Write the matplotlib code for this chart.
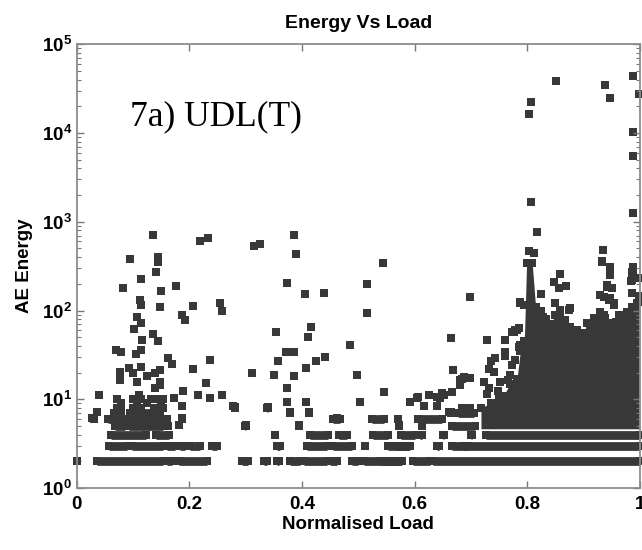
import numpy as np
import matplotlib.pyplot as plt
from matplotlib.ticker import LogLocator, NullFormatter

plt.rcParams['font.family'] = ['Liberation Sans', 'DejaVu Sans']
plt.rcParams['font.weight'] = 'bold'
plt.rcParams['mathtext.fontset'] = 'custom'
plt.rcParams['mathtext.rm'] = 'Liberation Sans:bold'
plt.rcParams['mathtext.bf'] = 'Liberation Sans:bold'
plt.rcParams['mathtext.it'] = 'Liberation Sans:bold'

# ---------------- data ----------------
# single AE hits (normalised load, energy)
pts_x = [
    0.136, 0.219, 0.233, 0.095, 0.145, 0.145, 0.141, 0.115, 0.082, 0.149, 0.176, 0.113, 0.115,
    0.148, 0.207, 0.254, 0.258, 0.187, 0.193, 0.107, 0.114, 0.102, 0.136, 0.116, 0.144, 0.069,
    0.079, 0.115, 0.105, 0.163, 0.170, 0.237, 0.207, 0.077, 0.092, 0.100, 0.114, 0.124, 0.139,
    0.148, 0.077, 0.107, 0.148, 0.139, 0.148, 0.230, 0.188, 0.040, 0.111, 0.173, 0.216, 0.237,
    0.258, 0.278, 0.036, 0.028, 0.187, 0.187, 0.181, 0.071, 0.078, 0.100, 0.107, 0.115, 0.124,
    0.132, 0.141, 0.150, 0.154,
    0.386, 0.315, 0.325, 0.390, 0.544, 0.373, 0.516, 0.406, 0.440, 0.516, 0.416, 0.411, 0.354,
    0.486, 0.371, 0.386, 0.358, 0.425, 0.441, 0.312, 0.351, 0.386, 0.408, 0.498, 0.373, 0.546,
    0.373, 0.408, 0.504, 0.281, 0.339, 0.379, 0.413, 0.463, 0.300, 0.395,
    0.699, 0.788, 0.794, 0.664, 0.729, 0.761, 0.777, 0.785, 0.761, 0.786, 0.669, 0.735, 0.743,
    0.733, 0.742, 0.773, 0.684, 0.699, 0.680, 0.724, 0.733, 0.751, 0.766, 0.592, 0.604, 0.625,
    0.640, 0.646, 0.652, 0.667, 0.664, 0.616, 0.573, 0.613, 0.607, 0.649, 0.640, 0.661, 0.681,
    0.687, 0.761, 0.728, 0.748, 0.770, 0.778,
    0.806, 0.804, 0.852, 0.939, 0.948, 0.988, 0.998, 0.988, 0.988, 0.806, 0.988, 0.818, 0.804,
    0.812, 0.934, 0.933, 0.948, 0.948, 0.942, 0.936, 0.948, 0.988, 0.988, 0.985, 0.998, 0.987,
    0.998, 0.858, 0.847, 0.856, 0.869, 0.824, 0.787, 0.850, 0.874, 0.877, 0.815, 0.829, 0.859,
    0.930, 0.945, 0.954, 0.936, 0.963, 0.995, 0.980, 0.975, 0.779, 0.788, 0.889, 0.906, 0.918,
    0.924, 0.942, 0.951, 0.954, 0.966, 0.978, 0.987, 0.987, 0.900, 0.812, 0.818, 0.773, 0.782,
    0.933, 0.987, 0.987,
]
pts_y = [
    711, 614, 653, 379, 405, 356, 275, 225, 181, 166, 189, 132, 116,
    109, 113, 123, 99, 89, 78, 85, 72, 62, 55, 47, 45, 36,
    34, 36, 32, 29, 25, 28, 22, 20.5, 22.3, 19.6, 23.3, 18.5, 19.6,
    21.4, 16.5, 15.8, 15.8, 13.3, 14.5, 15.4, 12.4, 11.2, 11.2, 10.3, 11.2, 10.3,
    11.2, 8.3, 7.2, 6.2, 8.3, 6.2, 5.1, 10, 9, 10, 9, 10, 9,
    10, 10, 9, 10,
    711, 540, 559, 438, 341, 203, 200, 155, 157, 93, 66, 50, 58,
    41, 34, 34, 27, 27, 30, 20, 19, 18.5, 22.3, 19, 13.3, 12.2,
    9.3, 9.3, 9.3, 8.1, 8.1, 7.1, 7.1, 6.1, 5.1, 5.1,
    141, 121, 114, 49, 47, 47, 58, 63, 34, 39, 21.4, 27, 29,
    22, 20.5, 24.3, 16.9, 17.5, 14.5, 15.8, 13.3, 15.8, 16.5, 9.4, 10.3, 11.2,
    8.3, 10.3, 11.2, 12.2, 7.2, 8.3, 5.1, 5.1, 10.7, 11.7, 10.7, 7.2, 16.5,
    18, 31, 11.5, 12.5, 19, 28,
    22600, 16300, 38800, 34900, 24500, 44200, 27700, 10400, 5530, 1660, 1250, 763, 470,
    450, 482, 362, 313, 252, 186, 143, 137, 313, 262, 216, 232, 157,
    125, 257, 208, 178, 189, 154, 124, 121, 102, 106, 110, 85, 102,
    150, 131, 116, 89, 89, 121, 82, 60, 60, 41, 60, 72, 82,
    72, 194, 178, 121, 85, 97, 241, 275, 53, 89, 78, 58, 60,
    356, 220, 110,
]

# rows of hits sitting side by side on one energy level
run_level = [2] * 16 + [3] * 15 + [4] * 11 + [5] * 8 + [6] * 8 + [7] * 6 + [8] * 6
run_x0 = [
    0.000, 0.036, 0.160, 0.181, 0.293, 0.333, 0.356, 0.379, 0.403, 0.450, 0.489, 0.510, 0.539,
    0.598, 0.632, 0.457,
    0.057, 0.098, 0.160, 0.184, 0.201, 0.240, 0.355, 0.409, 0.456, 0.512, 0.553, 0.567, 0.640,
    0.667, 0.687,
    0.060, 0.140, 0.353, 0.415, 0.465, 0.527, 0.576, 0.610, 0.651, 0.700, 0.727,
    0.068, 0.093, 0.163, 0.299, 0.394, 0.573, 0.667, 0.613,
    0.030, 0.056, 0.095, 0.187, 0.456, 0.524, 0.571, 0.607,
    0.066, 0.095, 0.379, 0.413, 0.664, 0.678,
    0.071, 0.100, 0.138, 0.281, 0.338, 0.684,
]
run_x1 = [
    0.000, 0.154, 0.169, 0.232, 0.305, 0.338, 0.360, 0.397, 0.444, 0.462, 0.500, 0.575, 0.577,
    0.628, 1.000, 0.457,
    0.089, 0.154, 0.175, 0.193, 0.219, 0.249, 0.361, 0.444, 0.489, 0.512, 0.589, 0.592, 0.643,
    0.695, 1.000,
    0.123, 0.164, 0.353, 0.446, 0.480, 0.553, 0.601, 0.613, 0.652, 0.702, 1.000,
    0.086, 0.154, 0.163, 0.300, 0.395, 0.573, 0.708, 0.613,
    0.030, 0.086, 0.160, 0.187, 0.468, 0.545, 0.571, 0.649,
    0.078, 0.148, 0.379, 0.413, 0.664, 0.705,
    0.078, 0.115, 0.154, 0.281, 0.339, 0.699,
]

# dense mass of hits above 0.72 load: upper edge of the dark area (hit centres)
blob_x = [0.718, 0.735, 0.750, 0.758, 0.770, 0.782, 0.788, 0.795, 0.799, 0.809, 0.815, 0.824,
          0.833, 0.841, 0.850, 0.859, 0.868, 0.877, 0.886, 0.894, 0.903, 0.912, 0.921, 0.930,
          0.939, 0.948, 0.957, 0.966, 0.975, 0.984, 0.992, 0.999]
blob_top = [8, 9, 10, 11, 15, 17, 35, 45, 340, 340, 110, 100,
            80, 70, 88, 95, 78, 66, 55, 47, 56, 66, 78, 95,
            82, 72, 74, 78, 85, 95, 110, 145]
blob_base = 4.65

xticks = [0, 0.2, 0.4, 0.6, 0.8, 1.0]
xtick_labels = ['0', '0.2', '0.4', '0.6', '0.8', '1']

# ---------------- plot ----------------
col = '#383838'
msize = 6.3
fig = plt.figure(figsize=(6.42, 5.5), dpi=100)
ax = fig.add_axes([0.1195, 0.1127, 0.877, 0.8068])

ax.fill_between(blob_x, blob_base, blob_top, color=col, lw=0, clip_on=False)
ax.scatter(blob_x, blob_top, marker='s', s=msize ** 2, color=col, lw=0, clip_on=False)
for lv, a, b in zip(run_level, run_x0, run_x1):
    # a row of touching hits: line between the end hits plus the end hits themselves
    ax.plot([a, b], [lv, lv], color=col, lw=msize, solid_capstyle='butt',
            marker='s', ms=msize, mew=0, clip_on=False)
ax.scatter(pts_x, pts_y, marker='s', s=msize ** 2, color=col, lw=0, clip_on=False)

ax.set_yscale('log')
ax.set_xlim(0, 1)
ax.set_ylim(1, 1e5)
ax.set_xticks(xticks)
ax.set_xticklabels(xtick_labels)
ax.yaxis.set_major_locator(LogLocator(base=10, numticks=10))
ax.yaxis.set_minor_locator(LogLocator(base=10, subs=np.arange(2, 10), numticks=10))
ax.yaxis.set_minor_formatter(NullFormatter())

ax.tick_params(which='both', direction='in', top=True, right=True, colors='#777777',
               labelcolor='black', labelsize=13.5)
ax.tick_params(which='major', length=5, width=1)
ax.tick_params(which='minor', length=3, width=0.8)
ax.tick_params(axis='x', pad=6)
for s in ax.spines.values():
    s.set_color('#8c8c8c')
    s.set_linewidth(1.3)

ax.set_title('Energy Vs Load', fontsize=14, fontweight='bold', pad=12)
ax.set_xlabel('Normalised Load', fontsize=13.5, fontweight='bold', labelpad=2)
ax.set_ylabel('AE Energy', fontsize=13.5, fontweight='bold', labelpad=6)
ax.text(0.095, 0.818, '7a) UDL(T)', transform=ax.transAxes, fontsize=25.5,
        family='Liberation Serif', fontweight='normal', va='baseline')

fig.savefig('out.png', dpi=100)
